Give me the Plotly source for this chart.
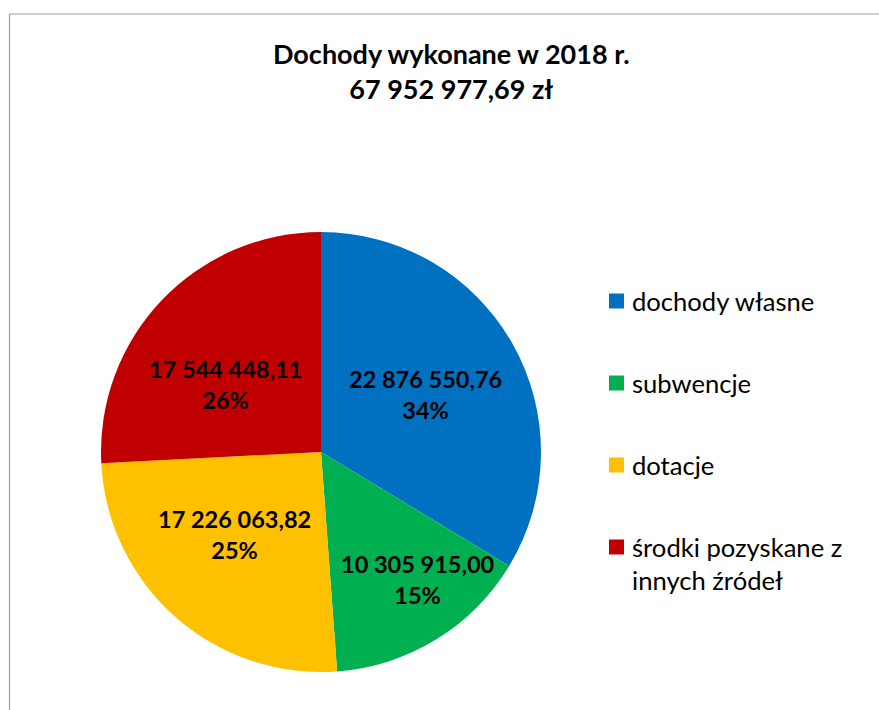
import math
import plotly.graph_objects as go

# ---- data ----
categories = ["dochody własne", "subwencje", "dotacje", "środki pozyskane z<br>innych źródeł"]
values = [22876550.76, 10305915.00, 17226063.82, 17544448.11]
value_labels = ["22 876 550,76", "10 305 915,00", "17 226 063,82", "17 544 448,11"]
title_lines = ["Dochody wykonane w 2018 r.", "67 952 977,69 zł"]

# ---- style ----
colors = ["#0070C0", "#00B050", "#FFC000", "#C00000"]
W, H = 879, 710
cx, cy, R = 321, 452, 220
label_radius = [0.54, 0.73, 0.546, 0.532]      # label distance as fraction of radius
label_angle_shift = [0.7, -5.8, 4.9, -8.6]     # degrees, clockwise
FONT = "Lato"

def px(x):
    return x / W

def py(y):
    return 1 - y / H

fig = go.Figure()
fig.add_trace(go.Pie(
    labels=categories,
    values=values,
    marker=dict(colors=colors, line=dict(width=0)),
    sort=False,
    direction="clockwise",
    rotation=0,
    textinfo="none",
    hoverinfo="label+value+percent",
    showlegend=False,
    domain=dict(x=[px(cx - R), px(cx + R)], y=[py(cy + R), py(cy - R)]),
))

annotations = []
# title
annotations.append(dict(
    x=px(452), y=py(71), xref="paper", yref="paper", showarrow=False,
    text="<b>" + title_lines[0] + "<br>" + title_lines[1] + "</b>",
    font=dict(family=FONT, size=27, color="#000000"), align="center",
    xanchor="center", yanchor="middle",
))

# data labels
total = sum(values)
cum = 0.0
for i, v in enumerate(values):
    mid = (cum + v / 2) / total * 2 * math.pi + math.radians(label_angle_shift[i])
    cum += v
    lx = cx + label_radius[i] * R * math.sin(mid)
    ly = cy - label_radius[i] * R * math.cos(mid)
    pct = round(v / total * 100)
    annotations.append(dict(
        x=px(lx), y=py(ly), xref="paper", yref="paper", showarrow=False,
        text="<b>%s<br>%d%%</b>" % (value_labels[i], pct),
        font=dict(family=FONT, size=23.5, color="#000000"), align="center",
        xanchor="center", yanchor="middle",
    ))

# manual legend
shapes = []
leg_x0, leg_y0, leg_dy, sq = 609, 301, 82, 15
for i, name in enumerate(categories):
    yc = leg_y0 + i * leg_dy
    shapes.append(dict(type="rect", xref="paper", yref="paper",
                       x0=px(leg_x0), x1=px(leg_x0 + sq),
                       y0=py(yc + sq / 2), y1=py(yc - sq / 2),
                       fillcolor=colors[i], line=dict(width=0)))
    annotations.append(dict(
        x=px(leg_x0 + sq + 6), y=py(yc - 17), xref="paper", yref="paper", showarrow=False,
        text=name, font=dict(family=FONT, size=25.6, color="#000000"), align="left",
        xanchor="left", yanchor="top",
    ))

# chart border (left and top edges visible)
shapes.append(dict(type="line", xref="paper", yref="paper",
                   x0=px(9.5), x1=px(9.5), y0=0, y1=py(14),
                   line=dict(color="#A0A0A0", width=1.2)))
shapes.append(dict(type="line", xref="paper", yref="paper",
                   x0=px(9.5), x1=1, y0=py(14), y1=py(14),
                   line=dict(color="#A0A0A0", width=1.2)))

fig.update_layout(
    width=W, height=H,
    margin=dict(l=0, r=0, t=0, b=0),
    paper_bgcolor="white", plot_bgcolor="white",
    annotations=annotations, shapes=shapes,
    font=dict(family=FONT),
)

fig.write_html("out.html", config={"displayModeBar": False},
               post_script="document.body.style.margin='0';")
